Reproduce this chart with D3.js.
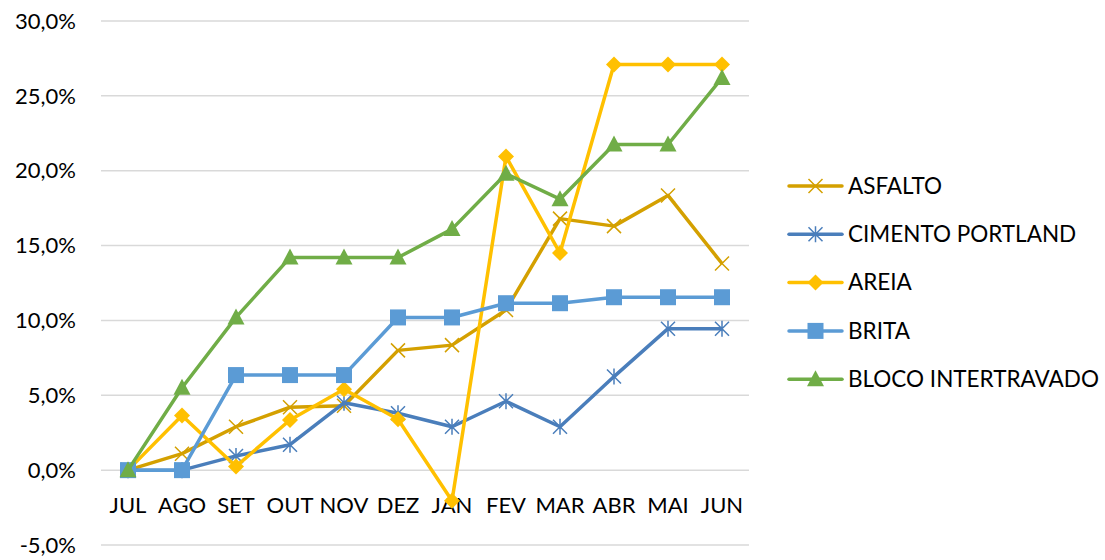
<!DOCTYPE html>
<html>
<head>
<meta charset="UTF-8">
<title>Variação acumulada</title>
<script src="https://d3js.org/d3.v7.min.js"></script>
<style>
    body { margin: 0; background: #fff; font-family: Lato, "Open Sans", sans-serif; }
    .tick-label { fill: #000; font-size: 22px; }
    .legend-label { fill: #000; font-size: 22.5px; }
</style>
</head>
<body>
<svg id="chart"></svg>
<script>
    const width = 1105;
    const height = 560;

    // data, in percent
    const months = ["JUL", "AGO", "SET", "OUT", "NOV", "DEZ", "JAN", "FEV", "MAR", "ABR", "MAI", "JUN"];
    const asfalto  = [0, 1.1, 2.9, 4.2, 4.3, 8.0, 8.35, 10.7, 16.8, 16.3, 18.35, 13.8];
    const cimento  = [0, 0, 0.95, 1.7, 4.5, 3.8, 2.9, 4.6, 2.9, 6.25, 9.45, 9.45];
    const areia    = [0, 3.65, 0.25, 3.35, 5.4, 3.4, -2.05, 20.95, 14.5, 27.1, 27.1, 27.1];
    const brita    = [0, 0, 6.35, 6.35, 6.35, 10.2, 10.2, 11.15, 11.15, 11.55, 11.55, 11.55];
    const bloco    = [0, 5.5, 10.2, 14.2, 14.2, 14.2, 16.1, 19.8, 18.1, 21.75, 21.75, 26.2];
    const yTicks = [-5, 0, 5, 10, 15, 20, 25, 30];

    const series = [
        { name: "ASFALTO", values: asfalto, color: "#D4A000", marker: "x" },
        { name: "CIMENTO PORTLAND", values: cimento, color: "#4A7EBB", marker: "star" },
        { name: "AREIA", values: areia, color: "#FFC000", marker: "diamond" },
        { name: "BRITA", values: brita, color: "#5B9BD5", marker: "square" },
        { name: "BLOCO INTERTRAVADO", values: bloco, color: "#70AD47", marker: "triangle" }
    ];

    const svg = d3.select("#chart").attr("width", width).attr("height", height);

    const x = d3.scaleBand().domain(months).range([101, 749]);
    const y = d3.scaleLinear().domain([-5, 30]).range([545, 21]);
    const cx = m => x(m) + x.bandwidth() / 2;

    // gridlines
    svg.append("g").selectAll("line")
        .data(yTicks)
        .join("line")
        .attr("x1", 101).attr("x2", 749)
        .attr("y1", d => y(d)).attr("y2", d => y(d))
        .attr("stroke", "#d9d9d9")
        .attr("stroke-width", 1.5);

    // y labels
    const fmt = v => v.toFixed(1).replace(".", ",") + "%";
    svg.append("g").selectAll("text")
        .data(yTicks)
        .join("text")
        .attr("class", "tick-label")
        .attr("x", 76)
        .attr("y", d => y(d))
        .attr("dy", "0.35em")
        .attr("text-anchor", "end")
        .text(fmt);

    // x labels
    svg.append("g").selectAll("text")
        .data(months)
        .join("text")
        .attr("class", "tick-label")
        .attr("x", d => cx(d))
        .attr("y", 505)
        .attr("dy", "0.35em")
        .attr("text-anchor", "middle")
        .text(d => d);

    function drawMarker(g, type, color) {
        const s = 7;
        if (type === "x" || type === "star") {
            g.append("path")
                .attr("d", `M${-s},${-s}L${s},${s}M${-s},${s}L${s},${-s}` + (type === "star" ? `M0,${-s - 1}L0,${s + 1}` : ""))
                .attr("stroke", color)
                .attr("stroke-width", 1.5)
                .attr("fill", "none");
        } else if (type === "diamond") {
            g.append("path").attr("d", `M0,-8L8,0L0,8L-8,0Z`).attr("fill", color);
        } else if (type === "square") {
            g.append("rect").attr("x", -8).attr("y", -8).attr("width", 16).attr("height", 16).attr("fill", color);
        } else if (type === "triangle") {
            g.append("path").attr("d", `M0,-9L8.5,7L-8.5,7Z`).attr("fill", color);
        }
    }

    const line = d3.line()
        .x((d, i) => cx(months[i]))
        .y(d => y(d));

    series.forEach(s => {
        const g = svg.append("g");
        g.append("path")
            .attr("d", line(s.values))
            .attr("fill", "none")
            .attr("stroke", s.color)
            .attr("stroke-width", 3.5)
            .attr("stroke-linejoin", "round");
        s.values.forEach((v, i) => {
            const mg = g.append("g").attr("transform", `translate(${cx(months[i])},${y(v)})`);
            drawMarker(mg, s.marker, s.color);
        });
    });

    // legend
    const legend = svg.append("g");
    series.forEach((s, i) => {
        const ly = 186 + i * 48.3;
        legend.append("line")
            .attr("x1", 789).attr("x2", 842)
            .attr("y1", ly).attr("y2", ly)
            .attr("stroke", s.color)
            .attr("stroke-width", 3.5)
            .attr("stroke-linecap", "round");
        const mg = legend.append("g").attr("transform", `translate(815.5,${ly})`);
        drawMarker(mg, s.marker, s.color);
        legend.append("text")
            .attr("class", "legend-label")
            .attr("x", 848)
            .attr("y", ly)
            .attr("dy", "0.35em")
            .text(s.name);
    });
</script>
</body>
</html>
